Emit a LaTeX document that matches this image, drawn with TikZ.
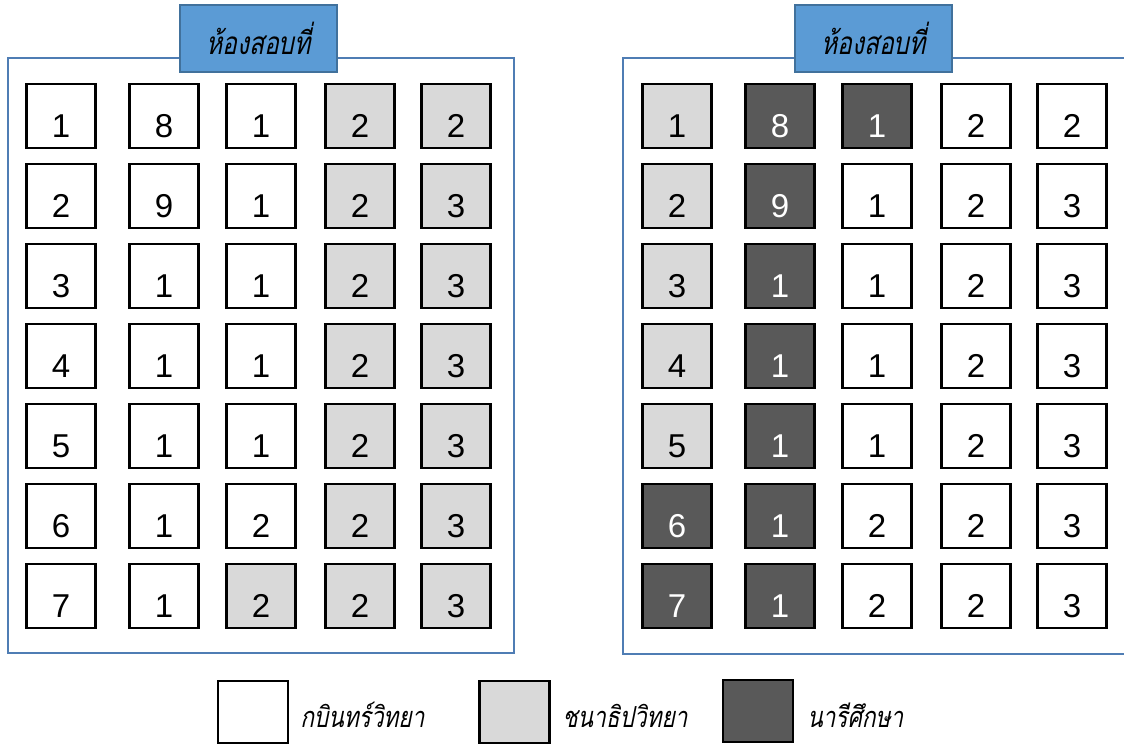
\documentclass[tikz,border=0pt]{standalone}
\usepackage{fontspec}
\setmainfont{Liberation Sans}
\newfontfamily\thaifont[Script=Thai,FakeSlant=0.2,FakeStretch=0.78]{Loma}
\definecolor{seatw}{HTML}{FFFFFF}
\definecolor{seatg}{HTML}{D9D9D9}
\definecolor{seatd}{HTML}{595959}
\colorlet{txtw}{black}
\colorlet{txtg}{black}
\colorlet{txtd}{white}
\definecolor{framec}{HTML}{4F7DB4}
\definecolor{headfill}{HTML}{5B9BD5}
\definecolor{headline}{HTML}{41719C}
\begin{document}
\begin{tikzpicture}[x=0.025cm, y=-0.025cm,
    seat/.style={draw, line width=1.5pt, inner sep=0pt, minimum width=1.725cm,
      minimum height=1.6cm, text height=1.05cm, text depth=0pt,
      font=\fontsize{23.5}{28}\selectfont},
    room/.style={draw=framec, line width=1.4pt},
    head/.style={draw=headline, fill=headfill, line width=1.8pt, inner sep=0pt,
      minimum width=3.925cm, minimum height=1.675cm,
      font=\thaifont\fontsize{22.4}{26}\selectfont},
    key/.style={draw, line width=1.5pt, minimum width=1.75cm, minimum height=1.55cm},
    keytext/.style={anchor=base west, inner sep=0pt,
      font=\thaifont\fontsize{20.6}{24}\selectfont}]
  \useasboundingbox (0,0) rectangle (1124,744);
  \clip (0,0) rectangle (1124,744);
  % the two rooms
  \draw[room] (8,58) rectangle (514,653);
  \draw[room] (623,58) rectangle (1140,654);
  \node[head] (hdL) at (258.5,38.5) {ห้องสอบที่};
  \node[head] (hdR) at (873.5,38.5) {ห้องสอบที่};
  % left room
  \foreach \row [count=\r] in {{1/w,8/w,1/w,2/g,2/g},{2/w,9/w,1/w,2/g,3/g},
      {3/w,1/w,1/w,2/g,3/g},{4/w,1/w,1/w,2/g,3/g},{5/w,1/w,1/w,2/g,3/g},
      {6/w,1/w,2/w,2/g,3/g},{7/w,1/w,2/g,2/g,3/g}}
    \foreach \n/\f [count=\c] in \row {
      \pgfmathsetmacro\xx{{61,164,261,360,456}[\c-1]}
      \node[seat, fill=seat\f, text=txt\f] (L-\r-\c) at (\xx,{116+80*(\r-1)}) {\n};
    }
  % right room
  \foreach \row [count=\r] in {{1/g,8/d,1/d,2/w,2/w},{2/g,9/d,1/w,2/w,3/w},
      {3/g,1/d,1/w,2/w,3/w},{4/g,1/d,1/w,2/w,3/w},{5/g,1/d,1/w,2/w,3/w},
      {6/d,1/d,2/w,2/w,3/w},{7/d,1/d,2/w,2/w,3/w}}
    \foreach \n/\f [count=\c] in \row {
      \pgfmathsetmacro\xx{{61,164,261,360,456}[\c-1]+616}
      \node[seat, fill=seat\f, text=txt\f] (R-\r-\c) at (\xx,{116+80*(\r-1)}) {\n};
    }
  % legend
  \node[key, fill=seatw] (keyw) at (253,712) {};
  \node[key, fill=seatg] (keyg) at (514.5,712) {};
  \node[key, fill=seatd] (keyd) at (758,711) {};
  \node[keytext] (txw) at (300,727) {กบินทร์วิทยา};
  \node[keytext] (txg) at (562,727) {ชนาธิปวิทยา};
  \node[keytext] (txd) at (807,727) {นารีศึกษา};
\end{tikzpicture}
\end{document}
